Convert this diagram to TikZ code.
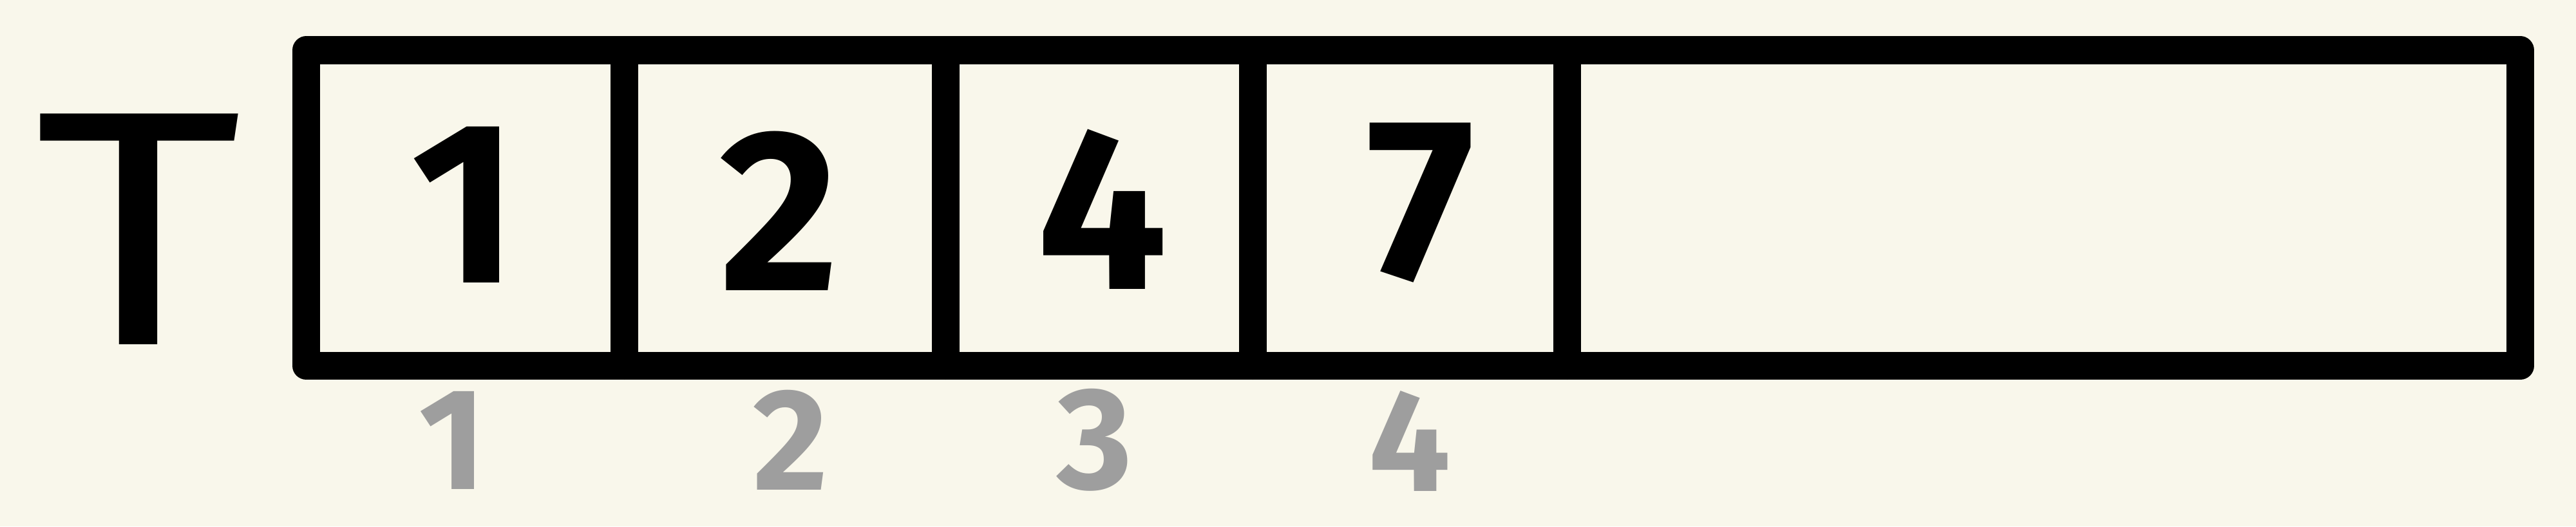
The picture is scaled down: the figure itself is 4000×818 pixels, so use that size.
\documentclass[tikz,border=0pt]{standalone}
\usepackage{fontspec}
\setmainfont{Fira Sans}
\definecolor{bg}{HTML}{F9F7EB}
\definecolor{idx}{HTML}{9E9E9E}
\begin{document}
\begin{tikzpicture}[x=0.01cm,y=-0.01cm,
  frame/.style={line width=0.43cm, line join=round, line cap=round, draw=black},
  val/.style={inner sep=0pt, font=\fontsize{102}{102}\selectfont\bfseries},
  idxlbl/.style={inner sep=0pt, text=idx, font=\fontsize{64}{64}\selectfont\bfseries},
  title/.style={inner sep=0pt, xscale=1.2, font=\fontsize{148}{148}\selectfont}]
\fill[bg] (0,0) rectangle (4000,818);
\useasboundingbox (0,0) rectangle (4000,818);
% array frame
\draw[frame] (475.5,78) rectangle (3913.5,568.5);
% dividers
\coordinate (d1t) at (969,78);    \coordinate (d1b) at (969,568.5);
\coordinate (d2t) at (1468.5,78); \coordinate (d2b) at (1468.5,568.5);
\coordinate (d3t) at (1945,78);   \coordinate (d3b) at (1945,568.5);
\coordinate (d4t) at (2433.5,78); \coordinate (d4b) at (2433.5,568.5);
\draw[frame] (d1t) -- (d1b);
\draw[frame] (d2t) -- (d2b);
\draw[frame] (d3t) -- (d3b);
\draw[frame] (d4t) -- (d4b);
% name
\node[title] (T) at (215,356) {T};
% values
\node[val] (v1) at (722,318) {1};
\node[val] (v2) at (1210,328) {2};
\node[val] (v3) at (1712,325) {4};
\node[val] (v4) at (2206,315) {7};
% indices
\node[idxlbl] (i1) at (703,684) {1};
\node[idxlbl] (i2) at (1228,684) {2};
\node[idxlbl] (i3) at (1700,684) {3};
\node[idxlbl] (i4) at (2189,686) {4};
\end{tikzpicture}
\end{document}
